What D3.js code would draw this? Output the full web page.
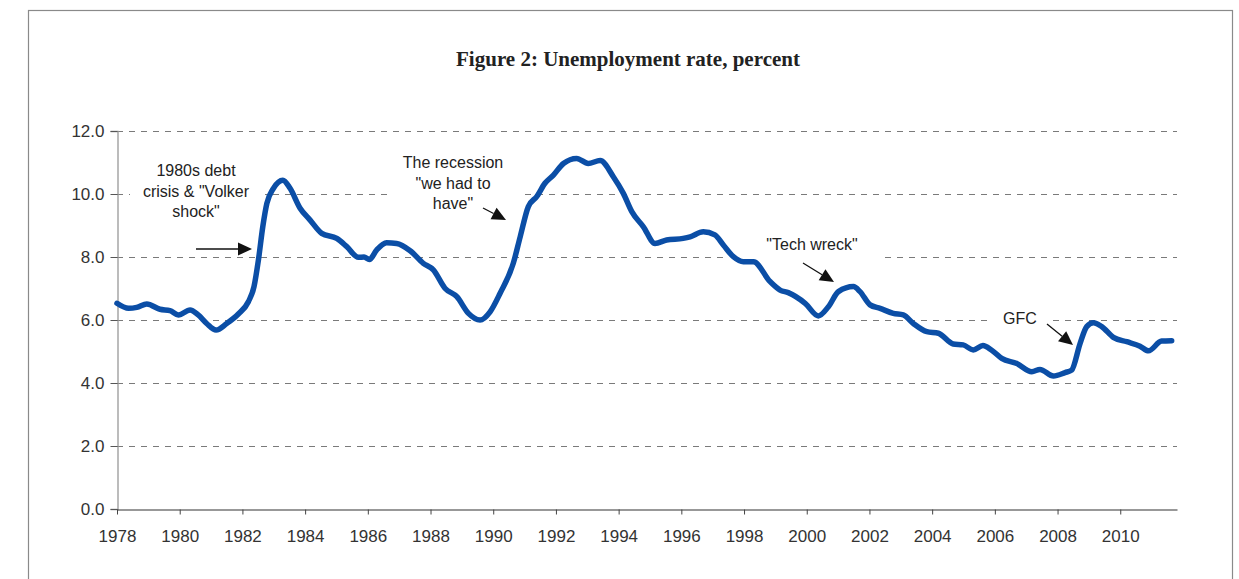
<!DOCTYPE html>
<html>
<head>
<meta charset="utf-8">
<script src="https://cdn.jsdelivr.net/npm/d3@7"></script>
<style>
  html, body { margin: 0; padding: 0; background: #fff; }
  svg { display: block; }
</style>
</head>
<body>
<svg id="chart" width="1239" height="579"></svg>
<script>
// ---- data ----
const years = [1978.00,1978.37,1978.63,1978.95,1979.37,1979.69,1979.96,1980.33,1980.59,1980.86,
  1981.16,1981.50,1981.87,1982.19,1982.37,1982.51,1982.65,1982.78,1982.99,1983.29,
  1983.52,1983.84,1984.16,1984.53,1985.01,1985.33,1985.70,1985.88,1986.05,1986.28,
  1986.60,1986.92,1987.35,1987.77,1988.09,1988.46,1988.84,1989.21,1989.58,1989.90,
  1990.22,1990.64,1990.86,1991.12,1991.39,1991.65,1991.92,1992.24,1992.66,1993.03,
  1993.41,1993.83,1994.15,1994.42,1994.79,1995.16,1995.53,1996.06,1996.28,1996.70,
  1997.07,1997.34,1997.66,1997.98,1998.30,1998.83,1999.15,1999.41,1999.95,2000.37,
  2000.69,2001.01,2001.49,2001.70,2002.02,2002.34,2002.76,2003.08,2003.40,2003.83,
  2004.20,2004.67,2004.99,2005.31,2005.62,2005.89,2006.22,2006.70,2007.18,2007.44,
  2007.87,2008.24,2008.45,2008.72,2008.93,2009.14,2009.41,2009.78,2010.21,2010.63,
  2010.90,2011.32,2011.64];
const rates = [6.53,6.37,6.40,6.51,6.34,6.30,6.16,6.32,6.16,5.89,
  5.68,5.89,6.19,6.58,7.06,7.90,8.96,9.70,10.18,10.44,
  10.18,9.55,9.17,8.75,8.59,8.33,7.99,8.00,7.92,8.22,
  8.45,8.43,8.20,7.80,7.59,7.01,6.74,6.21,6.00,6.26,
  6.85,7.80,8.64,9.60,9.92,10.34,10.60,10.97,11.13,10.97,
  11.06,10.55,10.02,9.44,8.96,8.43,8.54,8.59,8.64,8.80,
  8.70,8.38,8.01,7.85,7.85,7.22,6.95,6.87,6.53,6.13,
  6.42,6.90,7.06,6.90,6.48,6.37,6.21,6.16,5.89,5.63,
  5.58,5.24,5.21,5.05,5.19,5.05,4.78,4.62,4.36,4.43,
  4.22,4.33,4.41,5.26,5.79,5.91,5.79,5.45,5.31,5.17,
  5.02,5.33,5.34];
const yearTicks = [1978,1980,1982,1984,1986,1988,1990,1992,1994,1996,1998,2000,2002,2004,2006,2008,2010];
const rateTicks = [0,2,4,6,8,10,12];
const titleText = "Figure 2: Unemployment rate, percent";
const annotations = [
  { lines: ["1980s debt", "crisis & \"Volker", "shock\""] },
  { lines: ["The recession", "\"we had to", "have\""] },
  { lines: ["\"Tech wreck\""] },
  { lines: ["GFC"] }
];

// ---- layout ----
const svg = d3.select("#chart");
const plot = { left: 117, right: 1177, top: 131, bottom: 509 };
const x = d3.scaleLinear().domain([1978, 2011.81]).range([plot.left, plot.right]);
const y = d3.scaleLinear().domain([0, 12]).range([plot.bottom, plot.top]);

// frame
svg.append("rect").attr("x", 28.5).attr("y", 10.5).attr("width", 1204).attr("height", 600)
  .attr("fill", "none").attr("stroke", "#8a8a8a").attr("stroke-width", 1.2);

// title
svg.append("text").attr("x", 628).attr("y", 66).attr("text-anchor", "middle")
  .attr("font-family", "'Liberation Serif', 'DejaVu Serif', serif").attr("font-weight", "bold")
  .attr("font-size", 21).attr("fill", "#222").text(titleText);

// gridlines
svg.append("g").selectAll("line").data(rateTicks.filter(d => d > 0)).join("line")
  .attr("x1", plot.left).attr("x2", plot.right)
  .attr("y1", d => Math.round(y(d)) + 0.5).attr("y2", d => Math.round(y(d)) + 0.5)
  .attr("stroke", "#7a7a7a").attr("stroke-width", 1).attr("stroke-dasharray", "6,6");

// y axis
const yAxis = d3.axisLeft(y).tickValues(rateTicks).tickFormat(d3.format(".1f")).tickSize(7).tickPadding(6);
const gy = svg.append("g").attr("transform", `translate(${plot.left + 0.5},0)`).call(yAxis);
gy.select(".domain").attr("stroke", "#999").attr("stroke-width", 1.3);
gy.selectAll(".tick line").attr("stroke", "#555");
gy.selectAll(".tick text").attr("font-family", "'Liberation Sans', Arial, sans-serif")
  .attr("font-size", 17).attr("fill", "#333");

// x axis
const xAxis = d3.axisBottom(x).tickValues(yearTicks).tickFormat(d3.format("d")).tickSize(5).tickSizeOuter(0).tickPadding(15);
const gx = svg.append("g").attr("transform", `translate(0,${plot.bottom + 0.5})`).call(xAxis);
gx.select(".domain").attr("stroke", "#333").attr("stroke-width", 1.2);
gx.selectAll(".tick line").attr("stroke", "#444");
gx.selectAll(".tick text").attr("font-family", "'Liberation Sans', Arial, sans-serif")
  .attr("font-size", 17).attr("fill", "#333");

// annotation text boxes (white, hide gridlines behind the labels)
const annPos = [
  { cx: 196, y0: 176, dy: 20.5, box: [130, 152, 135, 72] },
  { cx: 453, y0: 168, dy: 20.5, box: [387, 148, 133, 66] },
  { cx: 812, y0: 250, dy: 20,   box: [723, 232, 160, 30] },
  { cx: 1020, y0: 324, dy: 20,  box: [993, 306, 54, 24] }
];
svg.append("g").selectAll("rect").data(annPos).join("rect")
  .attr("x", d => d.box[0]).attr("y", d => d.box[1]).attr("width", d => d.box[2]).attr("height", d => d.box[3])
  .attr("fill", "#fff");

// line
const pts = years.map((yr, i) => [yr, rates[i]]);
const line = d3.line().x(d => x(d[0])).y(d => y(d[1])).curve(d3.curveMonotoneX);
svg.append("path").datum(pts).attr("d", line).attr("fill", "none")
  .attr("stroke", "#0b4ea6").attr("stroke-width", 5.5).attr("stroke-linejoin", "round").attr("stroke-linecap", "round");

// annotations
const ann = svg.append("g").attr("font-family", "'Liberation Sans', Arial, sans-serif")
  .attr("font-size", 16).attr("fill", "#222").attr("text-anchor", "middle");
annotations.forEach((a, i) => {
  const t = ann.append("text").attr("x", annPos[i].cx).attr("y", annPos[i].y0);
  a.lines.forEach((l, j) => {
    t.append("tspan").attr("x", annPos[i].cx).attr("y", annPos[i].y0 + j * annPos[i].dy).text(l);
  });
});

// arrows
const arrows = [
  [196, 249, 252, 249],
  [483, 208, 506, 220],
  [803, 263, 834, 282],
  [1047, 324, 1073, 345]
];
const ag = svg.append("g");
arrows.forEach(([x1, y1, x2, y2]) => {
  const ang = Math.atan2(y2 - y1, x2 - x1);
  const L = 14, W = 6.5;
  const bx = x2 - L * Math.cos(ang), by = y2 - L * Math.sin(ang);
  ag.append("line").attr("x1", x1).attr("y1", y1).attr("x2", bx).attr("y2", by)
    .attr("stroke", "#111").attr("stroke-width", 1.3);
  const p1 = [bx + W * Math.sin(ang), by - W * Math.cos(ang)];
  const p2 = [bx - W * Math.sin(ang), by + W * Math.cos(ang)];
  ag.append("path").attr("d", `M${x2},${y2}L${p1[0]},${p1[1]}L${p2[0]},${p2[1]}Z`).attr("fill", "#111");
});
</script>
</body>
</html>
